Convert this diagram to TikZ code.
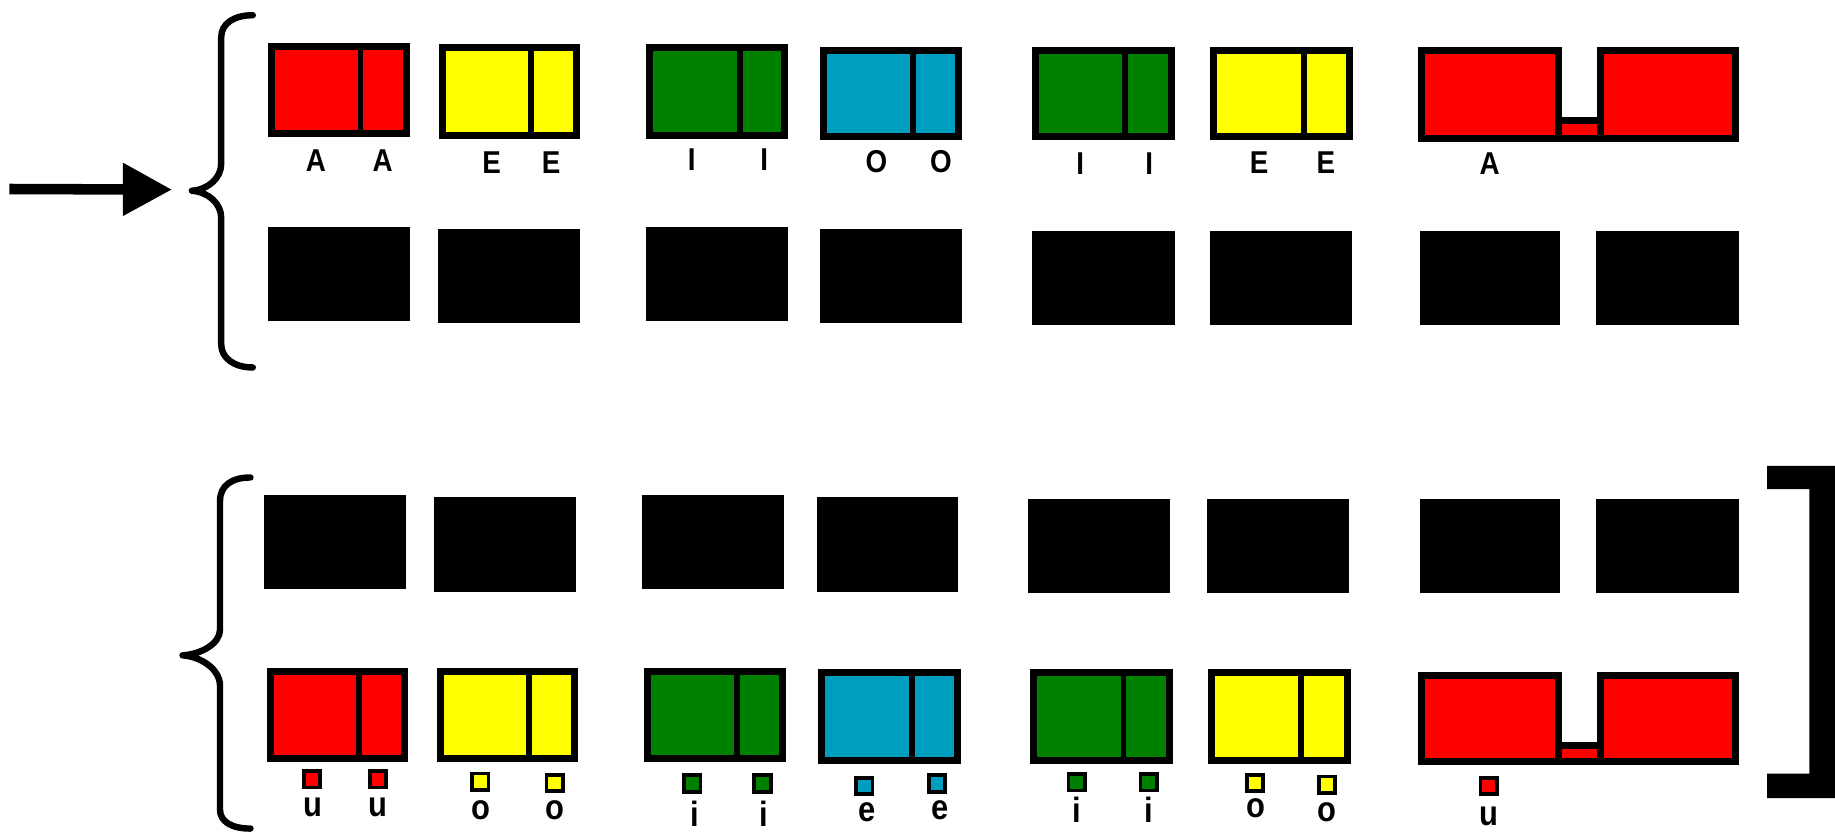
\documentclass[tikz,border=0pt]{standalone}
\usepackage{fontspec}
\setmainfont{Liberation Sans}
\newfontfamily\lblfont[FakeStretch=0.88]{Liberation Sans}
\usetikzlibrary{arrows.meta}
\definecolor{vred}{RGB}{255,0,0}
\definecolor{vyellow}{RGB}{255,255,0}
\definecolor{vgreen}{RGB}{0,128,0}
\definecolor{vblue}{RGB}{0,158,190}
\newcommand\cbox[6]{% outer x1,y1,x2,y2, divider x, colour
  \filldraw[pane,fill=#6] ([shift={(3,3)}]#1,#2) rectangle ([shift={(-3,-3)}]#3,#4);
  \draw[divline] ([shift={(0,3)}]#5,#2) -- ([shift={(0,-3)}]#5,#4);}
\newcommand\bbox[4]{\fill[blk] (#1,#2) rectangle (#3,#4);}
\newcommand\sqbox[3]{\filldraw[smallsq,fill=#3] ([shift={(-7,-7)}]#1,#2) rectangle ([shift={(7,7)}]#1,#2);}
\begin{document}
\begin{tikzpicture}[x=1pt,y=-1pt,
  pane/.style={draw=black,line width=6pt,line join=miter},
  divline/.style={draw=black,line width=5pt},
  blk/.style={fill=black},
  smallsq/.style={draw=black,line width=3.2pt},
  brace/.style={draw=black,line width=5.5pt,line cap=round,line join=round},
  capl/.style={font=\lblfont\bfseries\fontsize{27}{27}\selectfont,inner sep=0pt,anchor=center},
  lowl/.style={font=\lblfont\bfseries\fontsize{30}{30}\selectfont,inner sep=0pt,anchor=center}]
\useasboundingbox (0,0) rectangle (1568,712);
% arrow
\coordinate (arrowstart) at (8,161.5);
\coordinate (bracetip) at (147,162);
\draw[line width=9pt,-{Triangle[length=42pt,width=43pt]}] (arrowstart) -- (bracetip);
% braces
\draw[brace] (216,13) .. controls (200,13) and (189,20) .. (189,32) -- (189,140)
  .. controls (189,152) and (178,162) .. (164,163) .. controls (178,164) and (189,174) .. (189,186)
  -- (189,294) .. controls (189,306) and (200,314) .. (216,314);
\draw[brace] (214,408) .. controls (198,408) and (188,415) .. (188,428) -- (188,538)
  .. controls (188,550) and (172,559) .. (156,560) .. controls (172,561) and (188,572) .. (188,586)
  -- (188,692) .. controls (188,702) and (198,708) .. (214,708);
% right bracket
\fill[black] (1510,398) -- (1568,398) -- (1568,682) -- (1510,682) -- (1510,661) -- (1546,661)
  -- (1546,418) -- (1510,418) -- cycle;
% row 1 coloured boxes
\cbox{229}{37}{350}{117}{308}{vred}
\cbox{375}{38}{496}{119}{454}{vyellow}
\cbox{552}{38}{673}{119}{632}{vgreen}
\cbox{701}{40}{822}{120}{780}{vblue}
\cbox{882}{40}{1004}{120}{961}{vgreen}
\cbox{1034}{40}{1156}{120}{1114}{vyellow}
\filldraw[pane,fill=vred] (1215,43) -- (1332,43) -- (1332,103) -- (1368,103)
  -- (1368,43) -- (1483,43) -- (1483,118) -- (1215,118) -- cycle;
\draw[divline,line width=6pt] (1332,103) -- (1332,118) (1368,103) -- (1368,118);
% row 1 labels
\node[capl] (a1) at (270,137) {A};
\node[capl] (a2) at (327,137) {A};
\node[capl] (e1) at (420,139) {E};
\node[capl] (e2) at (471,139) {E};
\node[capl] (i1) at (591,136) {I};
\node[capl] (i2) at (653,136) {I};
\node[capl] (o1) at (749,138) {O};
\node[capl] (o2) at (804,138) {O};
\node[capl] (i3) at (923,140) {I};
\node[capl] (i4) at (982,140) {I};
\node[capl] (e3) at (1076,139) {E};
\node[capl] (e4) at (1133,139) {E};
\node[capl] (a3) at (1273,140) {A};
% row 2 black boxes
\bbox{229}{194}{350}{274}
\bbox{374}{196}{496}{276}
\bbox{552}{194}{673}{274}
\bbox{701}{196}{822}{276}
\bbox{882}{197}{1004}{278}
\bbox{1034}{197}{1155}{278}
\bbox{1213}{197}{1333}{278}
\bbox{1364}{197}{1486}{278}
% row 3 black boxes
\bbox{226}{423}{347}{503}
\bbox{371}{425}{492}{506}
\bbox{549}{423}{670}{503}
\bbox{698}{425}{819}{506}
\bbox{878}{426}{1000}{507}
\bbox{1031}{426}{1153}{507}
\bbox{1213}{426}{1333}{507}
\bbox{1364}{426}{1486}{507}
% row 4 coloured boxes
\cbox{228}{571}{349}{651}{307}{vred}
\cbox{373}{571}{494}{651}{452}{vyellow}
\cbox{550}{571}{672}{651}{630}{vgreen}
\cbox{699}{572}{821}{653}{779}{vblue}
\cbox{880}{572}{1002}{653}{960}{vgreen}
\cbox{1032}{572}{1154}{653}{1112}{vyellow}
\filldraw[pane,fill=vred] (1215,577) -- (1332,577) -- (1332,637) -- (1368,637)
  -- (1368,577) -- (1483,577) -- (1483,651) -- (1215,651) -- cycle;
\draw[divline,line width=6pt] (1332,637) -- (1332,651) (1368,637) -- (1368,651);
% small squares
\sqbox{266.5}{666}{vred}
\sqbox{323}{666}{vred}
\sqbox{410.5}{668}{vyellow}
\sqbox{474}{669}{vyellow}
\sqbox{591.5}{669.5}{vgreen}
\sqbox{651.5}{669.5}{vgreen}
\sqbox{738.5}{671.5}{vblue}
\sqbox{800.5}{669.5}{vblue}
\sqbox{920}{668.5}{vgreen}
\sqbox{981.5}{668.5}{vgreen}
\sqbox{1072.5}{669}{vyellow}
\sqbox{1134}{670.5}{vyellow}
\sqbox{1272}{671.5}{vred}
% row 4 labels
\node[lowl] (u1) at (267,690) {u};
\node[lowl] (u2) at (323,690) {u};
\node[lowl] (lo1) at (411,692) {o};
\node[lowl] (lo2) at (474,692) {o};
\node[lowl] (li1) at (594,695) {i};
\node[lowl] (li2) at (653,695) {i};
\node[lowl] (le1) at (741,694) {e};
\node[lowl] (le2) at (803,692) {e};
\node[lowl] (li3) at (920,692) {i};
\node[lowl] (li4) at (982,692) {i};
\node[lowl] (lo3) at (1073,691) {o};
\node[lowl] (lo4) at (1134,694) {o};
\node[lowl] (u3) at (1272,698) {u};
\end{tikzpicture}
\end{document}
